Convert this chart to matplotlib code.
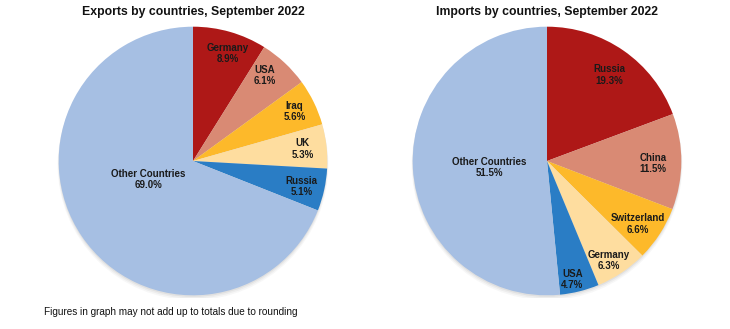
import matplotlib.pyplot as plt
import numpy as np

plt.rcParams['font.family'] = ['Liberation Sans', 'DejaVu Sans']

export_countries = ["Germany", "USA", "Iraq", "UK", "Russia", "Other Countries"]
export_shares = [8.9, 6.1, 5.6, 5.3, 5.1, 69.0]
import_countries = ["Russia", "China", "Switzerland", "Germany", "USA", "Other Countries"]
import_shares = [19.3, 11.5, 6.6, 6.3, 4.7, 51.5]

colors = ["#AE1817", "#D98A74", "#FDB92A", "#FEDD9F", "#2A7DC5", "#A6BFE3"]
# label placement: radial fraction and angular nudge (degrees) per wedge
export_label_r = [0.84, 0.83, 0.84, 0.82, 0.83, 0.36]
export_label_da = [-2, 3, 0, 0, -1, -12]
import_label_r = [0.79, 0.79, 0.82, 0.87, 0.9, 0.43]
import_label_da = [-1, -1, -2, -2, -2, 4]

W, H = 730, 329
fig = plt.figure(figsize=(W / 100, H / 100), dpi=100)
R = 137


def draw_pie(cx, cy, labels, values, label_r, label_da, title):
    ax = fig.add_axes([(cx - R) / W, 1 - (cy + R) / H, 2 * R / W, 2 * R / H])
    # soft shadow under the disc
    for i, a in enumerate([0.05, 0.04, 0.03]):
        ax.add_patch(plt.Circle((0.0, -0.012 - 0.008 * i), 1.0 + 0.004 * i,
                                color="black", alpha=a, lw=0, zorder=0))
    wedges, _ = ax.pie(values, colors=colors, startangle=90, counterclock=False,
                       radius=1.0, wedgeprops=dict(linewidth=0))
    for w, lab, v, rf, da in zip(wedges, labels, values, label_r, label_da):
        ang = np.deg2rad((w.theta1 + w.theta2) / 2 + da)
        ax.text(rf * np.cos(ang), rf * np.sin(ang), f"{lab}\n{v:.1f}%",
                ha="center", va="center", fontsize=7, fontweight="bold",
                color="#1a1a1a", linespacing=1.15)
    ax.set_xlim(-1.02, 1.02)
    ax.set_ylim(-1.02, 1.02)
    ax.set_aspect("equal")
    ax.axis("off")
    fig.text(cx / W, 1 - 12 / H, title, ha="center", va="center",
             fontsize=8.8, fontweight="bold", color="#111111")


draw_pie(193, 161, export_countries, export_shares, export_label_r, export_label_da,
         "Exports by countries, September 2022")
draw_pie(547, 161, import_countries, import_shares, import_label_r, import_label_da,
         "Imports by countries, September 2022")

fig.text(44 / W, 1 - 312 / H, "Figures in graph may not add up to totals due to rounding",
         ha="left", va="center", fontsize=7.2, color="#111111")

fig.savefig("out.png", dpi=100, facecolor="white")
